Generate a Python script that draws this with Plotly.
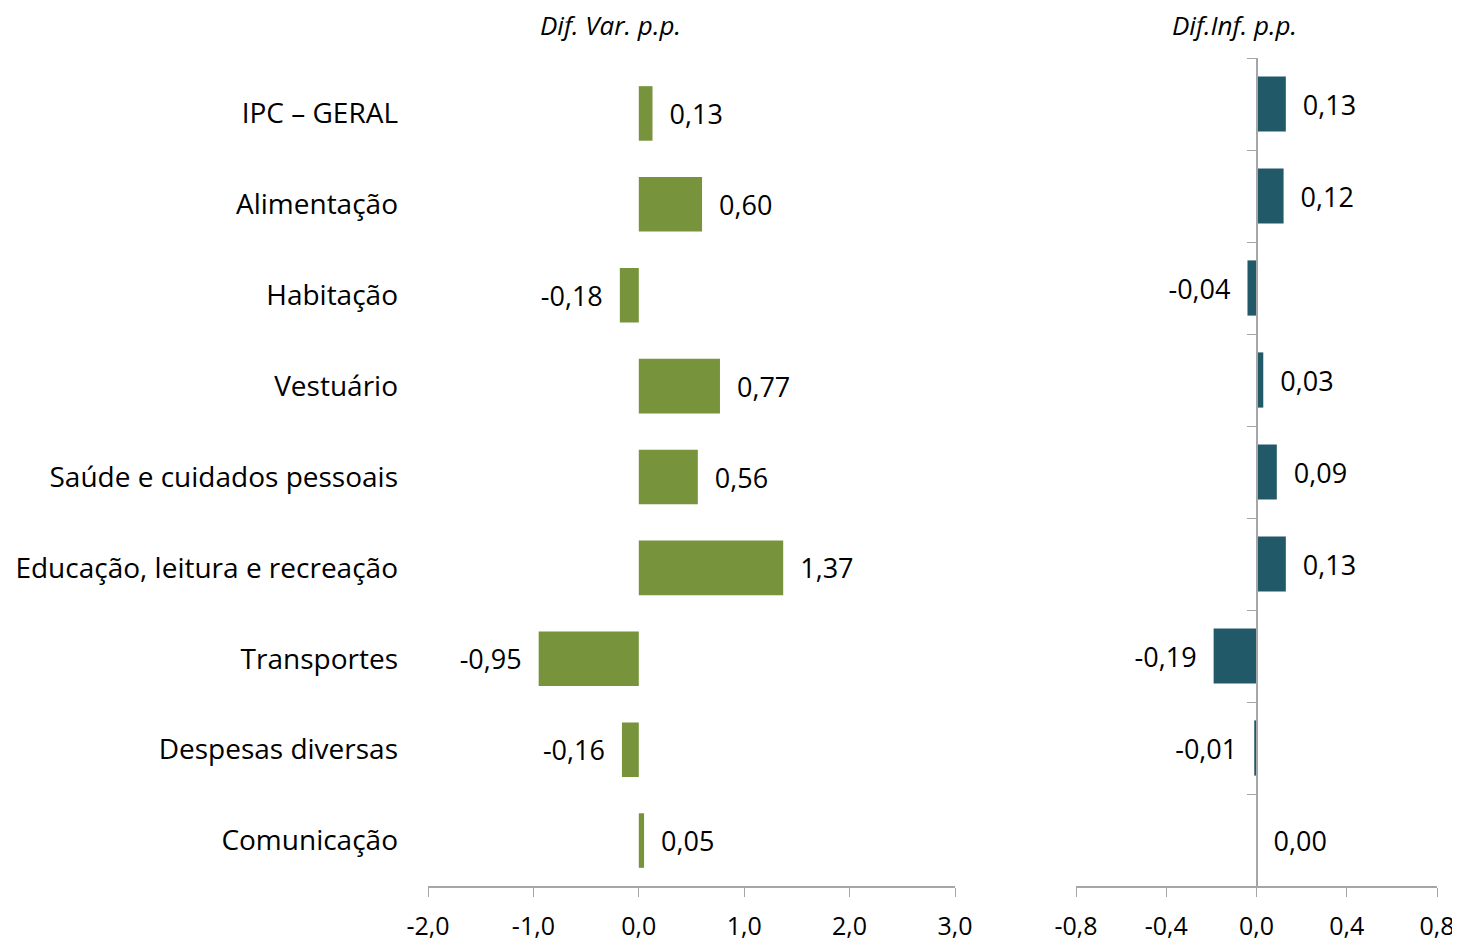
import plotly.graph_objects as go

categories = [
    "IPC \u2013 GERAL",
    "Alimentação",
    "Habitação",
    "Vestuário",
    "Saúde e cuidados pessoais",
    "Educação, leitura e recreação",
    "Transportes",
    "Despesas diversas",
    "Comunicação",
]
dif_var = [0.13, 0.60, -0.18, 0.77, 0.56, 1.37, -0.95, -0.16, 0.05]
dif_inf = [0.13, 0.12, -0.04, 0.03, 0.09, 0.13, -0.19, -0.01, 0.00]

left_ticks = [-2, -1, 0, 1, 2, 3]
left_ticktext = ["-2,0", "-1,0", "0,0", "1,0", "2,0", "3,0"]
right_ticks = [-0.8, -0.4, 0.0, 0.4, 0.8]
right_ticktext = ["-0,8", "-0,4", "0,0", "0,4", "0,8"]

GREEN = "#77933c"
TEAL = "#215968"
AXIS = "#a6a6a6"
FONT = "'Open Sans', sans-serif"
W, H = 1460, 944
OFF = 8  # page body margin in the browser


def _px(x):
    return (x - OFF) / W


def _py(y):
    return 1 - (y - OFF) / H


def _label(v):
    s = f"{v:.2f}".replace(".", ",")
    pad = "\u00a0\u00a0"
    return s + pad if v < 0 else pad + s


ypos = list(range(len(categories)))
yrange = [len(categories) - 0.5, -0.5]
bounds = [i - 0.5 for i in range(len(categories) + 1)]

fig = go.Figure()

fig.add_trace(
    go.Bar(
        x=dif_var,
        y=ypos,
        orientation="h",
        marker=dict(color=GREEN, line=dict(width=0)),
        width=0.6,
        text=[_label(v) for v in dif_var],
        textposition="outside",
        constraintext="none",
        cliponaxis=False,
        textfont=dict(size=27, color="#000000", family=FONT),
        xaxis="x",
        yaxis="y",
        showlegend=False,
    )
)
fig.add_trace(
    go.Bar(
        x=dif_inf,
        y=ypos,
        orientation="h",
        marker=dict(color=TEAL, line=dict(width=0)),
        width=0.6,
        text=[_label(v) for v in dif_inf],
        textposition="outside",
        constraintext="none",
        cliponaxis=False,
        textfont=dict(size=27, color="#000000", family=FONT),
        xaxis="x2",
        yaxis="y2",
        showlegend=False,
    )
)

# domains in paper fractions, from the pixel layout
lx = [_px(428), _px(955)]
rx = [_px(1076), _px(1437)]
ly = [_py(886), _py(68)]
ry = [_py(886), _py(58)]

_x = dict(
    showline=True,
    linecolor=AXIS,
    linewidth=1.5,
    ticks="outside",
    ticklen=9,
    tickcolor=AXIS,
    showgrid=False,
    zeroline=False,
    tickfont=dict(size=25, color="#000000", family=FONT),
    ticklabelstandoff=8,
    automargin=False,
    fixedrange=True,
)
_y = dict(
    range=yrange,
    showgrid=False,
    zeroline=False,
    automargin=False,
    fixedrange=True,
)

_title = dict(
    xref="paper",
    yref="paper",
    xanchor="center",
    yanchor="middle",
    showarrow=False,
    font=dict(size=26, color="#000000", family=FONT),
)

fig.update_layout(
    width=W,
    height=H,
    margin=dict(l=0, r=0, t=0, b=0),
    plot_bgcolor="white",
    paper_bgcolor="white",
    font=dict(family=FONT, color="#000000"),
    xaxis=dict(
        domain=lx,
        range=[-2, 3],
        tickvals=left_ticks,
        ticktext=left_ticktext,
        anchor="y",
        **_x,
    ),
    xaxis2=dict(
        domain=rx,
        range=[-0.8, 0.8],
        tickvals=right_ticks,
        ticktext=right_ticktext,
        anchor="y2",
        **_x,
    ),
    # category labels of the left panel
    yaxis=dict(
        domain=ly,
        tickvals=ypos,
        ticktext=categories,
        ticks="",
        showline=False,
        anchor="x",
        tickfont=dict(size=28, color="#000000", family=FONT),
        ticklabelstandoff=29,
        **_y,
    ),
    # axis line at zero with tick marks, left panel
    yaxis3=dict(
        domain=ly,
        overlaying="y",
        anchor="free",
        position=_px(639),
        tickvals=ypos,
        ticks="outside",
        ticklen=8,
        tickcolor=AXIS,
        minor=dict(tickvals=bounds, ticks="outside", ticklen=10, tickcolor=AXIS),
        showticklabels=False,
        showline=True,
        linecolor=AXIS,
        linewidth=1.5,
        **_y,
    ),
    # right panel, axis line at zero with boundary ticks
    yaxis2=dict(
        domain=ry,
        anchor="free",
        position=_px(1257),
        tickvals=bounds,
        ticks="outside",
        ticklen=9,
        tickcolor=AXIS,
        showticklabels=False,
        showline=True,
        linecolor=AXIS,
        linewidth=1.5,
        **_y,
    ),
    annotations=[
        dict(text="<i>Dif. Var. p.p.</i>", x=_px(610), y=_py(25), **_title),
        dict(text="<i>Dif.Inf. p.p.</i>", x=_px(1234), y=_py(25), **_title),
    ],
)

fig.write_html("out.html")
